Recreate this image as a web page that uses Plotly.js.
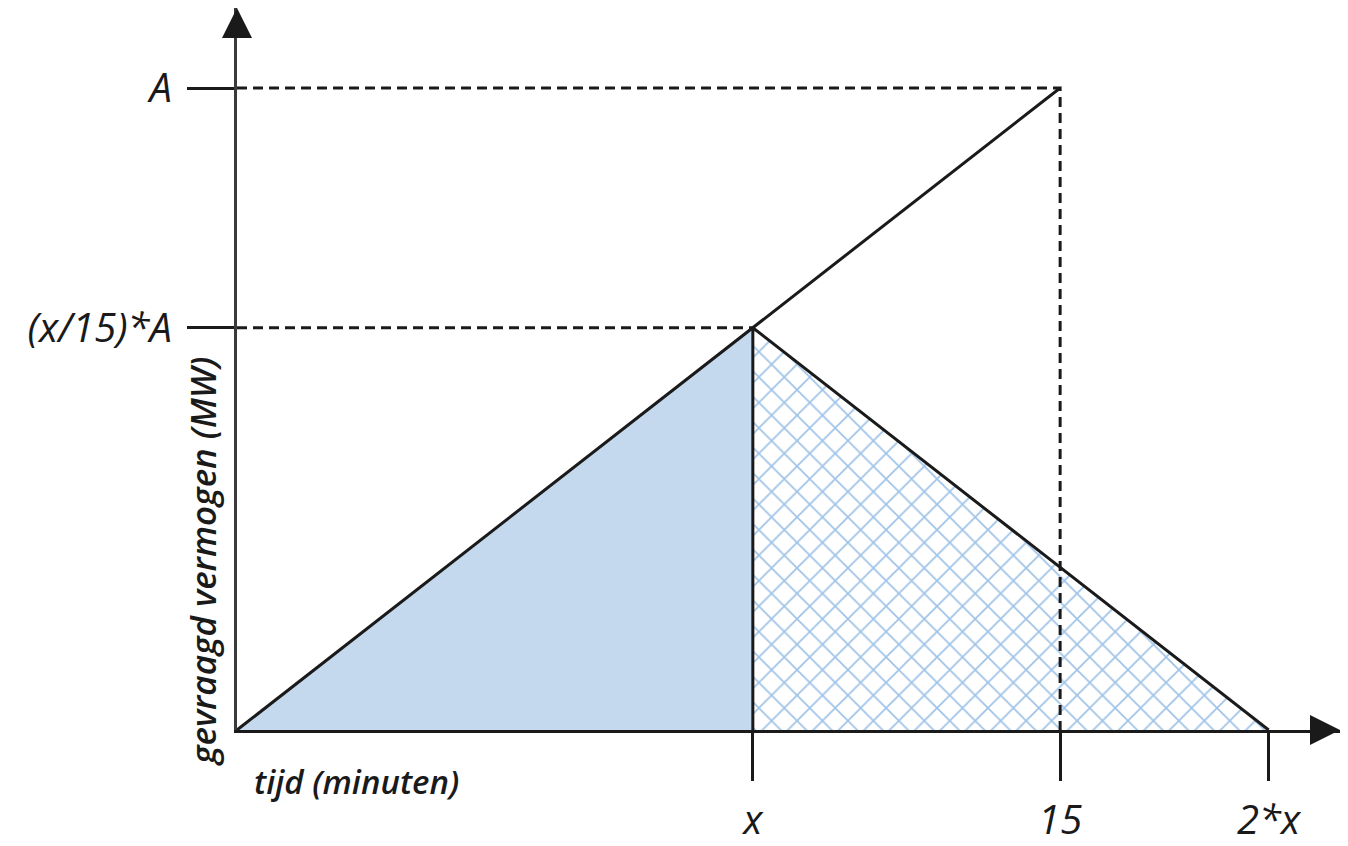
<!DOCTYPE html>
<html>
<head>
<meta charset="utf-8">
<script src="https://cdn.plot.ly/plotly-3.0.1.min.js"></script>
<style>html,body{margin:0;padding:0;background:#fff;}#chart{width:1348px;height:846px;}</style>
</head>
<body>
<div id="chart"></div>
<script>
// ---- data (units: minutes on x, MW on y with A = 15) ----
const A = 15;
const xPeak = 9.4;                 // "x"
const yPeak = xPeak / 15 * A;      // "(x/15)*A"
const xTickVals = [xPeak, 15, 2 * xPeak];
const xTickText = ['x', '15', '2*x'];
const yTickVals = [yPeak, A];
const yTickText = ['(x/15)*A', 'A'];
const rampX = [0, 15];
const rampY = [0, A];
const solidAreaX = [0, xPeak, xPeak, 0];
const solidAreaY = [0, yPeak, 0, 0];
const hatchAreaX = [xPeak, xPeak, 2 * xPeak, xPeak];
const hatchAreaY = [0, yPeak, 0, 0];
const decayX = [xPeak, 2 * xPeak];
const decayY = [yPeak, 0];
const peakVertX = [xPeak, xPeak];
const peakVertY = [0, yPeak];
const guideAX = [0, 15, 15];
const guideAY = [A, A, 0];
const guidePeakX = [0, xPeak];
const guidePeakY = [yPeak, yPeak];
const xMax = 20.1, yMax = 16.87;

const ink = '#1a1a1a';
const fontFam = '"Open Sans", "Segoe UI", sans-serif';

const traces = [
  {x: solidAreaX, y: solidAreaY, mode: 'lines', fill: 'toself', fillcolor: '#c5d9ee',
   line: {width: 0, color: 'rgba(0,0,0,0)'}, hoverinfo: 'skip'},
  {x: hatchAreaX, y: hatchAreaY, mode: 'lines', fill: 'toself', fillcolor: '#ffffff',
   fillpattern: {shape: 'x', fgcolor: '#9fc3e7', bgcolor: '#ffffff', size: 18, solidity: 0.18},
   line: {width: 0, color: 'rgba(0,0,0,0)'}, hoverinfo: 'skip'},
  {x: guideAX, y: guideAY, mode: 'lines', line: {color: ink, width: 3, dash: '10px,6px'}, hoverinfo: 'skip'},
  {x: guidePeakX, y: guidePeakY, mode: 'lines', line: {color: ink, width: 3, dash: '10px,6px'}, hoverinfo: 'skip'},
  {x: rampX, y: rampY, mode: 'lines', line: {color: ink, width: 3}, hoverinfo: 'skip'},
  {x: decayX, y: decayY, mode: 'lines', line: {color: ink, width: 3}, hoverinfo: 'skip'},
  {x: peakVertX, y: peakVertY, mode: 'lines', line: {color: ink, width: 3}, hoverinfo: 'skip'}
];

const tickFont = {family: fontFam, size: 40, color: ink, style: 'italic'};

const layout = {
  width: 1348, height: 846,
  margin: {l: 237, r: 8, t: 8, b: 116},
  paper_bgcolor: '#ffffff', plot_bgcolor: '#ffffff',
  showlegend: false,
  xaxis: {range: [0, xMax], showgrid: false, zeroline: false, showline: true,
          linecolor: ink, linewidth: 3, tickmode: 'array', tickvals: xTickVals, ticktext: xTickText,
          ticks: 'outside', ticklen: 48, tickwidth: 3, tickcolor: ink,
          tickfont: tickFont, ticklabelstandoff: 5, fixedrange: true},
  yaxis: {range: [0, yMax], showgrid: false, zeroline: false, showline: true,
          linecolor: '#3a3a3a', linewidth: 3, tickmode: 'array', tickvals: yTickVals, ticktext: yTickText,
          ticks: 'outside', ticklen: 47, tickwidth: 3, tickcolor: ink,
          tickfont: tickFont, ticklabelstandoff: 7, fixedrange: true},
  annotations: [
    {x: xMax, y: 0, ax: xMax - 0.5, ay: 0, xref: 'x', yref: 'y', axref: 'x', ayref: 'y',
     text: '', showarrow: true, arrowhead: 2, arrowsize: 2.0, arrowwidth: 3, arrowcolor: ink, standoff: 0},
    {x: 0, y: yMax, ax: 0, ay: yMax - 0.65, xref: 'x', yref: 'y', axref: 'x', ayref: 'y',
     text: '', showarrow: true, arrowhead: 2, arrowsize: 2.0, arrowwidth: 3, arrowcolor: ink, standoff: 0},
    {x: 0.28, y: 0, xref: 'x', yref: 'y', yshift: -51, xanchor: 'left', yanchor: 'middle',
     text: 'tijd (minuten)', showarrow: false,
     font: {family: fontFam, size: 33, color: ink, style: 'italic', weight: 600}},
    {x: 0, y: 0, xref: 'x', yref: 'y', xshift: -35, yshift: 168, xanchor: 'center', yanchor: 'middle',
     textangle: -90, text: 'gevraagd vermogen (MW)', showarrow: false,
     font: {family: fontFam, size: 35, color: ink, style: 'italic', weight: 600}}
  ]
};

Plotly.newPlot('chart', traces, layout, {displayModeBar: false, staticPlot: true});
</script>
</body>
</html>
